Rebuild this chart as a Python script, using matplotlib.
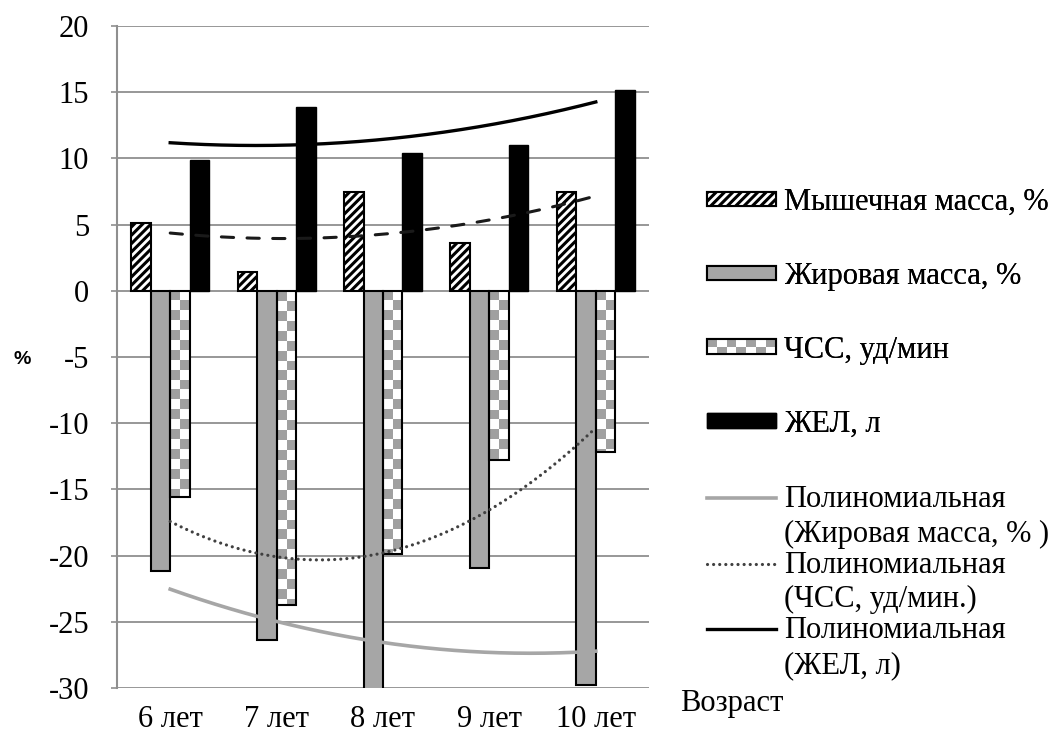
import numpy as np
import matplotlib
matplotlib.use("Agg")
import matplotlib.pyplot as plt
from matplotlib.patches import Rectangle
from matplotlib.legend_handler import HandlerBase, HandlerLine2D
from matplotlib.colors import ListedColormap

# ---- data -------------------------------------------------------------
ages = ["6 лет", "7 лет", "8 лет", "9 лет", "10 лет"]
muscle = [5.1, 1.4, 7.5, 3.6, 7.5]          # Мышечная масса, %
fat = [-21.2, -26.4, -30.3, -20.9, -29.8]   # Жировая масса, %
heart = [-15.6, -23.7, -19.9, -12.8, -12.2] # ЧСС, уд/мин
vital = [9.9, 13.9, 10.4, 11.0, 15.2]       # ЖЕЛ, л

bar_labels = ["Мышечная масса, %", "Жировая масса, %", "ЧСС, уд/мин", "ЖЕЛ, л"]
trend_labels = ["Полиномиальная\n(Жировая масса, % )",
                "Полиномиальная\n(ЧСС, уд/мин.)",
                "Полиномиальная\n(ЖЕЛ, л)"]
y_ticks = [-30, -25, -20, -15, -10, -5, 0, 5, 10, 15, 20]
x_title = "Возраст"
y_title = "%"

# ---- style ------------------------------------------------------------
SERIF = "Liberation Serif"
FS = 22
GRID = "#8f8f8f"
FAT_GREY = "#a6a6a6"
CHECK_GREY = "#a0a0a0"
plt.rcParams["hatch.linewidth"] = 2.2

W, H = 1063, 741
fig = plt.figure(figsize=(W / 100, H / 100), dpi=100)
ax = fig.add_axes([117 / W, 1 - 688 / H, (649 - 117) / W, (688 - 26) / H])

x = np.arange(len(ages))
bw = 0.183
offs = np.array([-1.5, -0.5, 0.5, 1.5]) * bw

b_mus = ax.bar(x + offs[0], muscle, bw, facecolor="white", edgecolor="black",
               hatch="////", linewidth=1.5, zorder=3)
b_fat = ax.bar(x + offs[1], fat, bw, facecolor=FAT_GREY, edgecolor="black",
               linewidth=1.5, zorder=3)
b_hr = ax.bar(x + offs[2], heart, bw, facecolor="none", edgecolor="black",
              linewidth=1.5, zorder=3)
b_vc = ax.bar(x + offs[3], vital, bw, facecolor="black", edgecolor="black",
              linewidth=1.0, zorder=3)

# checkerboard fill for the heart-rate bars
check_cmap = ListedColormap([CHECK_GREY, "white"])
cell = 0.75
for b in b_hr:
    x0, w, h = b.get_x(), b.get_width(), b.get_height()
    nrows = int(np.ceil(abs(h) / cell)) + 1
    img = np.add.outer(np.arange(nrows), np.arange(2)) % 2
    im = ax.imshow(img, cmap=check_cmap, extent=(x0, x0 + w, -nrows * cell, 0),
                   origin="upper", interpolation="nearest", aspect="auto",
                   zorder=2.5)
    im.set_clip_path(b)

# second-order polynomial trend lines
xs = np.linspace(0, len(ages) - 1, 200)
pos = np.arange(1, len(ages) + 1)


def trend(vals):
    c = np.polyfit(pos, vals, 2)
    return np.polyval(c, xs + 1)


ax.plot(xs, trend(muscle), color="#1a1a1a", lw=2.2, dashes=(4.0, 4.4),
        dash_capstyle="round", zorder=4)
l_fat, = ax.plot(xs, trend(fat), color=FAT_GREY, lw=2.6, zorder=4)
l_hr, = ax.plot(xs, trend(heart), color="#404040", lw=2.3,
                dashes=(0.01, 1.9), dash_capstyle="round", zorder=4)
l_vc, = ax.plot(xs, trend(vital), color="black", lw=2.4, zorder=4)

# axes
ax.set_xlim(-0.5, len(ages) - 0.5)
ax.set_ylim(-30, 20)
ax.set_yticks(y_ticks)
ax.set_yticklabels([str(t) for t in y_ticks], fontfamily=SERIF, fontsize=FS)
ax.set_xticks(x)
ax.set_xticklabels(ages, fontfamily=SERIF, fontsize=FS)
ax.tick_params(axis="y", direction="out", length=4, width=1.2, color=GRID, pad=16)
ax.tick_params(axis="x", length=0, pad=12)
ax.set_axisbelow(True)
ax.yaxis.grid(True, color=GRID, lw=1.3)
for s in ("top", "right", "bottom"):
    ax.spines[s].set_visible(False)
ax.spines["left"].set_color(GRID)
ax.spines["left"].set_linewidth(1.5)

fig.text(22 / W, 1 - 360 / H, y_title, fontfamily="Liberation Sans",
         fontweight="bold", fontsize=14, ha="center", va="center")
fig.text(680 / W, 1 - 704 / H, x_title, fontfamily=SERIF, fontsize=FS,
         ha="left", va="center")


# ---- legends ------------------------------------------------------------
class CheckerHandler(HandlerBase):
    def create_artists(self, legend, orig_handle, xdescent, ydescent,
                       width, height, fontsize, trans):
        arts = [Rectangle((-xdescent, -ydescent), width, height,
                          facecolor="white", edgecolor="none", transform=trans)]
        ncol, nrow = 7, 2
        cw, ch = width / ncol, height / nrow
        for i in range(nrow):
            for j in range(ncol):
                if (i + j) % 2 == 0:
                    arts.append(Rectangle((-xdescent + j * cw,
                                           -ydescent + (nrow - 1 - i) * ch),
                                          cw, ch, facecolor=CHECK_GREY,
                                          edgecolor="none", transform=trans))
        arts.append(Rectangle((-xdescent, -ydescent), width, height,
                              facecolor="none", edgecolor="black", lw=1.5,
                              transform=trans))
        return arts


class RaisedLine(HandlerLine2D):
    def __init__(self, dy, **kw):
        super().__init__(**kw)
        self.dy = dy

    def create_artists(self, legend, orig_handle, xdescent, ydescent,
                       width, height, fontsize, trans):
        arts = super().create_artists(legend, orig_handle, xdescent, ydescent,
                                      width, height, fontsize, trans)
        for a in arts:
            a.set_ydata(np.asarray(a.get_ydata()) + self.dy)
        return arts


hr_proxy = Rectangle((0, 0), 1, 1)
leg1 = fig.legend([b_mus, b_fat, hr_proxy, b_vc], bar_labels,
                  loc="upper left", bbox_to_anchor=(707 / W, 1 - 188 / H),
                  frameon=False, borderpad=0, borderaxespad=0,
                  handlelength=2.25, handleheight=0.37, handletextpad=0.26,
                  labelspacing=1.47,
                  prop={"family": SERIF, "size": FS},
                  handler_map={hr_proxy: CheckerHandler()})

raise_h = RaisedLine(15)
leg2 = fig.legend([l_fat, l_hr, l_vc], trend_labels,
                  loc="upper left", bbox_to_anchor=(707 / W, 1 - 485 / H),
                  frameon=False, borderpad=0, borderaxespad=0,
                  handlelength=2.25, handleheight=0.37, handletextpad=0.26,
                  labelspacing=0.07,
                  prop={"family": SERIF, "size": FS},
                  handler_map={l_fat: raise_h, l_hr: raise_h, l_vc: raise_h})
for t in leg2.get_texts():
    t.set_linespacing(1.25)
fig.add_artist(leg1)

fig.savefig("out.png", dpi=100)
